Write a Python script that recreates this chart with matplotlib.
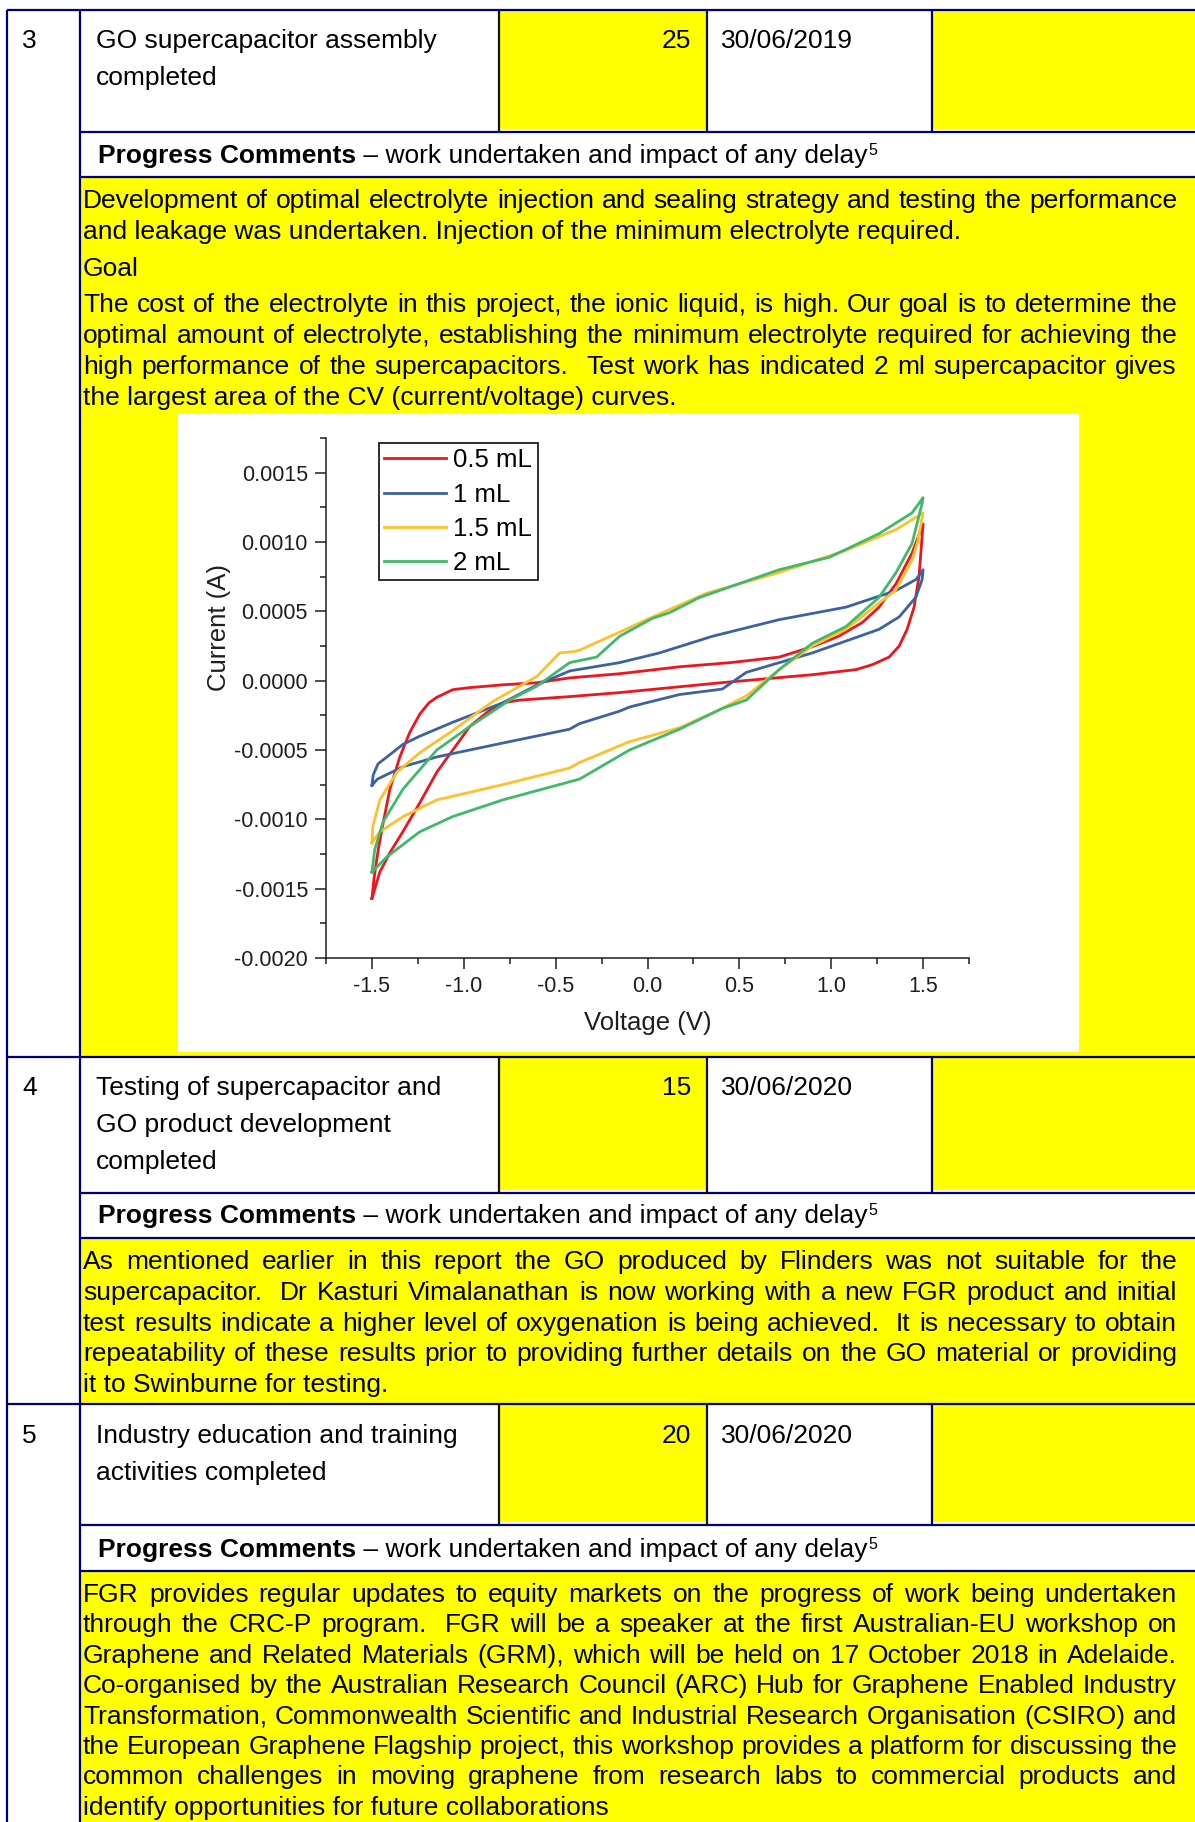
import matplotlib
matplotlib.use("Agg")
import matplotlib.pyplot as plt
from matplotlib.ticker import MultipleLocator, FormatStrFormatter

plt.rcParams["font.family"] = ["Liberation Sans", "DejaVu Sans"]

W, H = 1195, 1822
NAVY = "#00007f"; YEL = "#ffff00"; INK = "#000000"; DARK = "#1e1e1e"
FS = 19

# ---------------- table content ----------------
row_nums = ["3", "4", "5"]
row_titles = [["GO supercapacitor assembly", "completed"],
              ["Testing of supercapacitor and", "GO product development", "completed"],
              ["Industry education and training", "activities completed"]]
row_weights = ["25", "15", "20"]
row_dates = ["30/06/2019", "30/06/2020", "30/06/2020"]

# (text, justified?)
comments_3 = [
    ("Development of optimal electrolyte injection and sealing strategy and testing the performance", True),
    ("and leakage was undertaken. Injection of the minimum electrolyte required.", False),
    ("Goal", False),
    ("The cost of the electrolyte in this project, the ionic liquid, is high. Our goal is to determine the", True),
    ("optimal amount of electrolyte, establishing the minimum electrolyte required for achieving the", True),
    ("high performance of the supercapacitors.  Test work has indicated 2 ml supercapacitor gives", True),
    ("the largest area of the CV (current/voltage) curves.", False),
]
comments_4 = [
    ("As mentioned earlier in this report the GO produced by Flinders was not suitable for the", True),
    ("supercapacitor.  Dr Kasturi Vimalanathan is now working with a new FGR product and initial", True),
    ("test results indicate a higher level of oxygenation is being achieved.  It is necessary to obtain", True),
    ("repeatability of these results prior to providing further details on the GO material or providing", True),
    ("it to Swinburne for testing.", False),
]
comments_5 = [
    ("FGR provides regular updates to equity markets on the progress of work being undertaken", True),
    ("through the CRC-P program.  FGR will be a speaker at the first Australian-EU workshop on", True),
    ("Graphene and Related Materials (GRM), which will be held on 17 October 2018 in Adelaide.", True),
    ("Co-organised by the Australian Research Council (ARC) Hub for Graphene Enabled Industry", True),
    ("Transformation, Commonwealth Scientific and Industrial Research Organisation (CSIRO) and", True),
    ("the European Graphene Flagship project, this workshop provides a platform for discussing the", True),
    ("common challenges in moving graphene from research labs to commercial products and", True),
    ("identify opportunities for future collaborations", False),
]
comments = [comments_3, comments_4, comments_5]

# ---------------- CV data (V, A), loop: forward sweep then reverse ----------------
v05 = [-1.50, -1.489, -1.466, -1.438, -1.402, -1.348, -1.293, -1.239, -1.19, -1.147, -1.06, -0.967,
       -0.788, -0.603, -0.424, -0.152, 0.174, 0.45, 0.717, 0.897, 1.04, 1.17, 1.26, 1.353, 1.44, 1.50,
       1.478, 1.451, 1.413, 1.37, 1.315, 1.223, 1.136, 0.897, 0.408, -0.152, -0.424, -0.696, -0.788,
       -0.875, -0.967, -1.06, -1.147, -1.239, -1.332, -1.402, -1.457, -1.50]
i05 = [-0.00157, -0.00143, -0.00122, -0.00102, -0.00078, -0.00055, -0.00037, -0.00024, -0.00016,
       -0.00012, -0.000065, -0.00005, -0.00003, -0.000015, 0.00002, 0.00005, 0.0001, 0.00013, 0.00017,
       0.000245, 0.00032, 0.00042, 0.00053, 0.0007, 0.00092, 0.00113,
       0.00075, 0.00053, 0.00037, 0.00025, 0.00017, 0.000115, 0.00008, 0.000043, -0.000014, -0.000086,
       -0.000115, -0.00014, -0.00016, -0.00023, -0.00033, -0.0005, -0.00066, -0.00088, -0.00109,
       -0.00124, -0.00138, -0.00157]

v10 = [-1.50, -1.493, -1.467, -1.418, -1.332, -1.239, -1.06, -0.788, -0.60, -0.424, -0.152,
       0.065, 0.353, 0.717, 1.08, 1.353, 1.462, 1.50,
       1.495, 1.46, 1.37, 1.26, 0.897, 0.538, 0.462, 0.408, 0.353, 0.174, -0.098, -0.152, -0.37,
       -0.424, -0.788, -1.147, -1.33, -1.47, -1.50]
i10 = [-0.000755, -0.00068, -0.0006, -0.00055, -0.00046, -0.0004, -0.0003, -0.00016,
       -0.00003, 0.00007, 0.00013, 0.0002, 0.00032, 0.00044, 0.00053, 0.00065, 0.00073, 0.0008,
       0.00073, 0.0006, 0.00046, 0.00037, 0.0002, 0.00006, -0.00001, -0.00006, -0.00007, -0.0001,
       -0.00019, -0.00022, -0.00031, -0.00035, -0.00045, -0.00055, -0.00062, -0.00071, -0.000755]

v15 = [-1.50, -1.495, -1.457, -1.364, -1.24, -1.06, -0.842, -0.603, -0.478, -0.40, -0.37, -0.152,
       -0.005, 0.32, 0.717, 1.08, 1.353, 1.50,
       1.47, 1.44, 1.35, 1.26, 1.08, 0.897, 0.717, 0.538, 0.39, 0.174, -0.098, -0.37, -0.424,
       -0.788, -1.147, -1.33, -1.457, -1.50]
i15 = [-0.00117, -0.00105, -0.00086, -0.00066, -0.00052, -0.00036, -0.00015, 0.00003, 0.0002,
       0.00021, 0.00022, 0.00035, 0.00044, 0.00063, 0.00078, 0.00094, 0.00109, 0.00121,
       0.001, 0.00087, 0.00065, 0.00056, 0.00037, 0.00025, 0.00008, -0.00011, -0.00021, -0.00034,
       -0.00044, -0.00059, -0.00063, -0.00075, -0.00086, -0.00098, -0.00109, -0.00117]

v20 = [-1.50, -1.485, -1.44, -1.33, -1.147, -0.967, -0.75, -0.603, -0.424, -0.277, -0.152, 0.027,
       0.12, 0.283, 0.717, 0.99, 1.26, 1.44, 1.50,
       1.495, 1.44, 1.353, 1.26, 1.08, 0.897, 0.717, 0.538, 0.408, 0.174, -0.098, -0.37, -0.788,
       -1.06, -1.24, -1.418, -1.50]
i20 = [-0.00138, -0.00122, -0.00102, -0.00078, -0.0005, -0.00033, -0.00014, -0.00004, 0.00013,
       0.00017, 0.00032, 0.00045, 0.00049, 0.0006, 0.0008, 0.00089, 0.00106, 0.00121, 0.00132,
       0.00128, 0.00099, 0.00078, 0.0006, 0.00039, 0.00027, 0.00008, -0.00014, -0.0002, -0.00035,
       -0.0005, -0.00071, -0.00086, -0.00098, -0.00109, -0.00127, -0.00138]

series_labels = ["0.5 mL", "1 mL", "1.5 mL", "2 mL"]
series_colors = ["#f0141c", "#3b62a2", "#ffc02a", "#3fba6a"]
x_ticks = [-1.5, -1.0, -0.5, 0.0, 0.5, 1.0, 1.5]
y_ticks = [-0.002, -0.0015, -0.001, -0.0005, 0.0, 0.0005, 0.001, 0.0015]

# ---------------- page layout (pixels from top-left) ----------------
fig = plt.figure(figsize=(W / 100, H / 100), dpi=100)
bg = fig.add_axes([0, 0, 1, 1])
bg.set_xlim(0, W); bg.set_ylim(H, 0); bg.axis("off")
rend = fig.canvas.get_renderer()

LEFT, C1, C2, C3, C4 = 7, 80, 499, 707, 932
row_top = [10, 1057, 1404]
head_bot = [132, 1193, 1525]
prog_bot = [177, 1238, 1571]
row_bot = [1057, 1404, H + 5]
title_base = [[48, 85], [1095, 1132, 1169], [1443, 1480]]
prog_base = [163, 1223, 1557]
com_base0 = [208, 1269, 1602]
com_step = [31.2, 30.8, 30.4]


def rect(x0, y0, x1, y1, c):
    bg.fill_between([x0, x1], y0, y1, color=c, lw=0, zorder=0)


def hline(y, x0, x1, c=NAVY):
    bg.plot([x0, x1], [y, y], color=c, lw=1.6, solid_capstyle="butt", zorder=3)


def vline(x, y0, y1, c=NAVY):
    bg.plot([x, x], [y0, y1], color=c, lw=1.6, solid_capstyle="butt", zorder=3)


def put_line(x0, y, s, justify=False, x1=1177, **kw):
    kw.setdefault("fontsize", FS)
    if not justify:
        return bg.text(x0, y, s, va="baseline", color=INK, **kw)
    toks = s.split(" ")
    arts = [bg.text(0, y, t, va="baseline", color=INK, **kw) for t in toks]
    widths = [a.get_window_extent(rend).width if t else 0.0 for a, t in zip(arts, toks)]
    gap = (x1 - x0 - sum(widths)) / (len(toks) - 1)
    x = x0
    for a, w in zip(arts, widths):
        a.set_x(x)
        x += w + gap


for k in range(3):
    # fills
    rect(C2 + 1, row_top[k] + 1, C3, head_bot[k] - 3, YEL)
    rect(C4 + 1, row_top[k] + 1, W, head_bot[k] - 3, YEL)
    rect(C1 + 1, prog_bot[k], W, row_bot[k], YEL)
    # grid lines
    hline(head_bot[k], C1, W)
    hline(prog_bot[k], C1, W)
    vline(C2, row_top[k], head_bot[k], "#111111")
    vline(C3, row_top[k], head_bot[k], "#111111")
    vline(C4, row_top[k], head_bot[k])
    if k < 2:
        hline(row_bot[k], LEFT, W)
    # header texts
    b0 = title_base[k][0]
    bg.text(22, b0, row_nums[k], fontsize=FS, va="baseline", color=INK)
    for j, t in enumerate(row_titles[k]):
        bg.text(96, title_base[k][j], t, fontsize=FS, va="baseline", color=INK)
    bg.text(691, b0, row_weights[k], fontsize=FS, va="baseline", ha="right", color=INK)
    bg.text(721, b0, row_dates[k], fontsize=FS, va="baseline", color=INK)
    # progress comments heading
    pb = prog_base[k]
    t1 = bg.text(98, pb, "Progress Comments", fontsize=FS, fontweight="bold", va="baseline", color=INK)
    w1 = t1.get_window_extent(rend).width
    t2 = bg.text(98 + w1, pb, " \u2013 work undertaken and impact of any delay", fontsize=FS,
                 va="baseline", color=INK)
    w2 = t2.get_window_extent(rend).width
    bg.text(98 + w1 + w2 + 1, pb - 8, "5", fontsize=11.5, va="baseline", color=INK)
    # comment paragraphs
    base = com_base0[k]
    for j, (s, just) in enumerate(comments[k]):
        y = base + j * com_step[k]
        if k == 0 and j >= 2:
            y += 6
        if k == 0 and j >= 3:
            y += 4
        put_line(83, y, s, just)

hline(row_top[0], LEFT, W)
vline(LEFT, row_top[0], H)
vline(C1, row_top[0], H)

# chart image background
rect(178, 414, 1079, 1052, "white")

# ---------------- CV chart ----------------
ax = fig.add_axes([326 / W, 1 - 958 / H, 643 / W, 520 / H])
ax.patch.set_alpha(0)
for v, i, lab, col in zip([v05, v10, v15, v20], [i05, i10, i15, i20], series_labels, series_colors):
    ax.plot(v, i, color=col, lw=2.0, label=lab, solid_joinstyle="round")

ax.set_xlim(-1.75, 1.75)
ax.set_ylim(-0.002, 0.00175)
ax.set_xticks(x_ticks)
ax.set_yticks(y_ticks)
ax.xaxis.set_major_formatter(FormatStrFormatter("%.1f"))
ax.yaxis.set_major_formatter(FormatStrFormatter("%.4f"))
ax.xaxis.set_minor_locator(MultipleLocator(0.25))
ax.yaxis.set_minor_locator(MultipleLocator(0.00025))
for side in ["top", "right"]:
    ax.spines[side].set_visible(False)
for side in ["left", "bottom"]:
    ax.spines[side].set_linewidth(1.1)
    ax.spines[side].set_color(DARK)
ax.tick_params(which="major", direction="out", length=8, width=1.1, color=DARK,
               labelsize=15.5, labelcolor=DARK, pad=5)
ax.tick_params(which="minor", direction="out", length=4, width=1.1, color=DARK)
ax.set_xlabel("Voltage (V)", fontsize=18.5, color=DARK)
ax.set_ylabel("Current (A)", fontsize=18.5, color=DARK)
ax.xaxis.set_label_coords(0.5, -0.102)
ax.yaxis.set_label_coords(-0.148, 0.635)

leg = ax.legend(loc="upper left", bbox_to_anchor=(0.0824, 0.99), borderaxespad=0,
                fontsize=18.5, frameon=True, fancybox=False, framealpha=1, edgecolor=DARK,
                handlelength=2.4, handletextpad=0.3, labelspacing=0.4, borderpad=0.2)
leg.get_frame().set_linewidth(1.3)

fig.savefig("out.png", dpi=100, facecolor="white")
